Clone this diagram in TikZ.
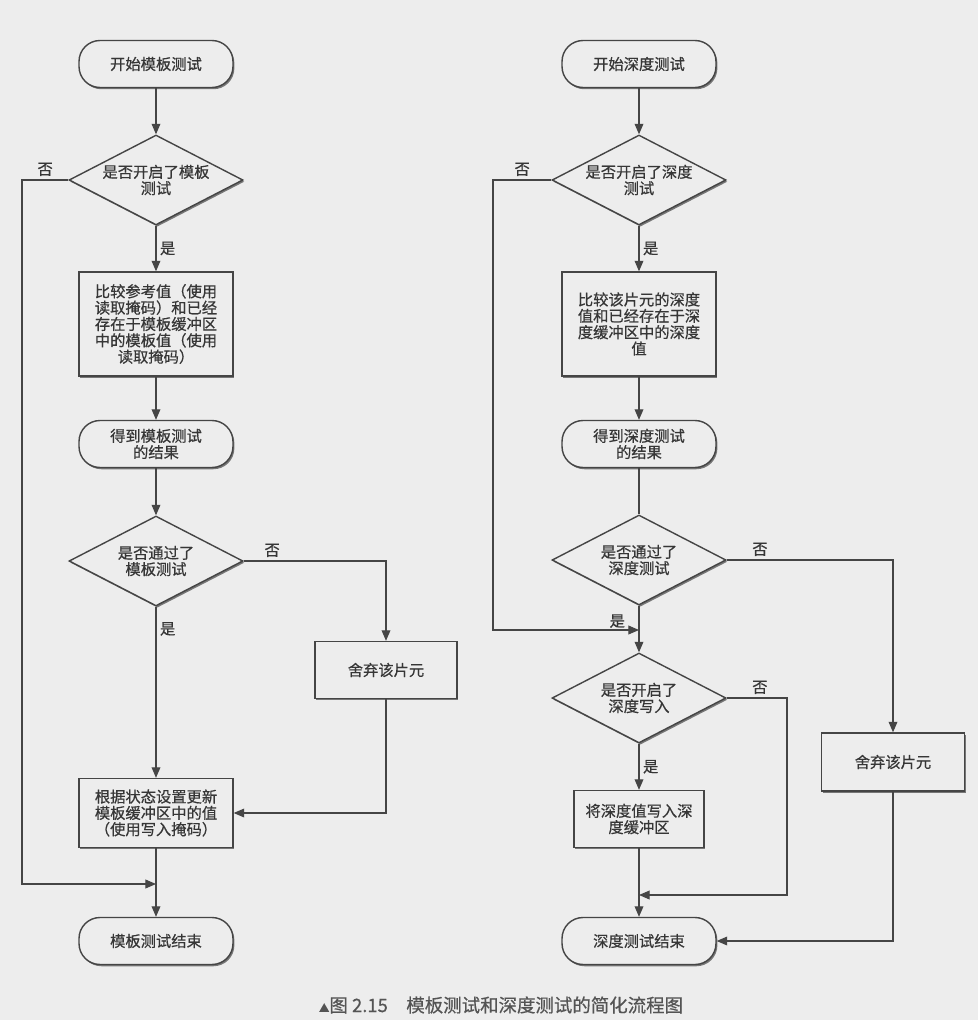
\documentclass[tikz,border=0pt]{standalone}
\usepackage{fontspec}
\setmainfont[FakeBold=0.6]{Noto Sans CJK SC}
\usetikzlibrary{positioning,shapes.geometric,shadows,arrows.meta}
\definecolor{FlowInk}{HTML}{363636}
\definecolor{FlowLine}{HTML}{454545}
\definecolor{FlowPaper}{HTML}{EDEDED}

\begin{document}
\begin{tikzpicture}[
    x=0.02cm,y=-0.02cm,
    font=\fontsize{8.7}{9.3}\selectfont,
    text=FlowInk,
    boxshadow/.style={drop shadow={shadow xshift=.8pt,shadow yshift=-1pt,fill=black,opacity=.5}},
    term/.style={rectangle,rounded corners=.42cm,draw=FlowLine,thick,fill=FlowPaper,boxshadow,minimum width=3.08cm,minimum height=.94cm,align=center,inner sep=1pt},
    box/.style={rectangle,draw=FlowLine,thick,fill=FlowPaper,boxshadow,minimum width=3.08cm,align=center,inner sep=1pt},
    decision/.style={diamond,aspect=1.93,draw=FlowLine,thick,fill=FlowPaper,boxshadow,minimum width=3.48cm,minimum height=1.8cm,inner sep=0pt,align=center},
    arrow/.style={-{Triangle[length=6pt,width=5pt]},semithick,draw=FlowLine},
    link/.style={semithick,draw=FlowLine},
    yesno/.style={inner sep=2pt}
  ]
    \path[use as bounding box,fill=FlowPaper] (0,0) rectangle (978,1020);

    \node[term] (lstart) at (156,64) {开始模板测试};
    \node[decision] (lq1) at (156,180) {是否开启了模板\\测试};
    \node[box,minimum height=2.08cm] (lcmp) at (156,324) {比较参考值（使用\\读取掩码）和已经\\存在于模板缓冲区\\中的模板值（使用\\读取掩码）};
    \node[term] (lres) at (156,444) {得到模板测试\\的结果};
    \node[decision] (lq2) at (156,561) {是否通过了\\模板测试};
    \node[box,minimum width=2.84cm,minimum height=1.14cm] (ldrop) at (386,670) {舍弃该片元};
    \node[box,minimum height=1.38cm] (lupd) at (156,813) {根据状态设置更新\\模板缓冲区中的值\\（使用写入掩码）};
    \node[term] (lend) at (156,941) {模板测试结束};
    \coordinate (lskip) at (22,884);
    \coordinate (ljoin) at (156,884);

    \draw[arrow] (lstart) -- (lq1);
    \draw[arrow] (lq1) -- node[right,yesno]{是} (lcmp);
    \draw[arrow] (lcmp) -- (lres);
    \draw[arrow] (lres) -- (lq2);
    \draw[arrow] (lq2) -- node[pos=.13,right,yesno]{是} (lupd);
    \draw[arrow] (lq2.east) -| node[pos=.1,above,yesno]{否} (ldrop.north);
    \draw[arrow] (ldrop.south) |- (lupd.east);
    \draw[arrow] (lupd) -- (lend);
    \draw[arrow] (lq1.west) -| node[pos=.25,above,yesno]{否} (lskip) -- (ljoin);

    \node[term] (rstart) at (639,64) {开始深度测试};
    \node[decision] (rq1) at (639,180) {是否开启了深度\\测试};
    \node[box,minimum height=2.08cm] (rcmp) at (639,324) {比较该片元的深度\\值和已经存在于深\\度缓冲区中的深度\\值};
    \node[term] (rres) at (639,444) {得到深度测试\\的结果};
    \node[decision] (rq2) at (639,560) {是否通过了\\深度测试};
    \node[decision] (rq3) at (639,698) {是否开启了\\深度写入};
    \node[box,minimum width=2.6cm,minimum height=1.14cm] (rwrite) at (639,819) {将深度值写入深\\度缓冲区};
    \node[box,minimum width=2.86cm,minimum height=1.16cm] (rdrop) at (893,762) {舍弃该片元};
    \node[term] (rend) at (639,941) {深度测试结束};
    \coordinate (rskip) at (493,630);
    \coordinate (rjoin) at (639,630);
    \coordinate (rnowrite) at (787,895);
    \coordinate (rjoin2) at (639,895);

    \draw[arrow] (rstart) -- (rq1);
    \draw[arrow] (rq1) -- node[right,yesno]{是} (rcmp);
    \draw[arrow] (rcmp) -- (rres);
    \draw[link] (rres) -- (rq2);
    \draw[arrow] (rq2) -- node[pos=.33,left,xshift=-.2cm,yesno]{是} (rq3);
    \draw[arrow] (rq1.west) -| node[pos=.25,above,yesno]{否} (rskip) -- (rjoin);
    \draw[arrow] (rq2.east) -| node[pos=.1,above,yesno]{否} (rdrop.north);
    \draw[arrow] (rq3.east) -| node[pos=.275,above,yesno]{否} (rnowrite) -- (rjoin2);
    \draw[arrow] (rq3) -- node[right,yesno]{是} (rwrite);
    \draw[arrow] (rwrite) -- (rend);
    \draw[arrow] (rdrop.south) |- (rend.east);

    \node[text=FlowInk!85,font=\fontsize{10.5}{12}\selectfont] (caption) at (501,1005) {{\fontsize{6}{7}\selectfont ▲}图 2.15\quad 模板测试和深度测试的简化流程图};
  \end{tikzpicture}
\end{document}
